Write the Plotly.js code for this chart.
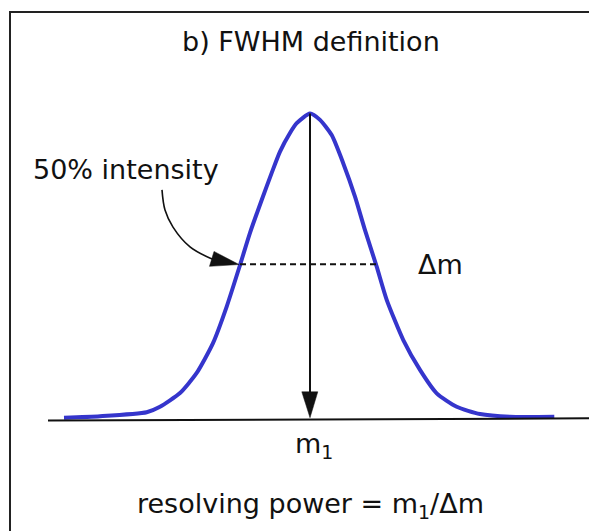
<!DOCTYPE html>
<html>
<head>
<meta charset="utf-8">
<script src="https://cdn.plot.ly/plotly-3.0.1.min.js"></script>
<style>html,body{margin:0;padding:0;background:#fff;}#chart{width:589px;height:531px;}</style>
</head>
<body>
<div id="chart"></div>
<script>
// Peak profile: mass offset from m1 (arbitrary units) and relative intensity
const massOffset = [-24.6, -21.0, -16.33, -15.0, -13.0, -11.33, -9.7, -8.33, -7.0, -6.0, -4.83, -3.83, -3.0, -2.0, -1.33, 0.0,
                    1.0, 2.17, 3.33, 4.5, 5.5, 6.67, 7.67, 9.33, 11.0, 12.67, 14.67, 17.0, 20.0, 24.43];
const intensity  = [0.001, 0.006, 0.019, 0.037, 0.082, 0.148, 0.246, 0.366, 0.502, 0.608, 0.716, 0.805, 0.875, 0.936, 0.968, 1.0,
                    0.979, 0.929, 0.836, 0.727, 0.617, 0.497, 0.388, 0.256, 0.158, 0.081, 0.037, 0.013, 0.004, 0.004];
// Half-maximum crossing points (FWHM)
const halfLevel = [0.505];
const halfLeft  = [-7.0];
const halfRight = [6.67];
// Curved pointer from the "50% intensity" label
const pointerX = [-14.8, -14.5, -13.7, -12.0, -9.8];
const pointerY = [0.749, 0.683, 0.627, 0.562, 0.522];
// Texts
const titleText = "b) FWHM definition";
const halfLabel = "50% intensity";
const deltaLabel = "Δm";
const peakLabel = "m<sub>1</sub>";
const formulaLabel = "resolving power = m<sub>1</sub>/Δm";

const FONT = "DejaVu Sans, Verdana, sans-serif";
const INK = "#111111";

const traces = [
  {x: massOffset, y: intensity, mode: "lines", type: "scatter",
   line: {color: "#3535cc", width: 4, shape: "spline", smoothing: 0.6}, hoverinfo: "skip"},
  {x: pointerX, y: pointerY, mode: "lines", type: "scatter",
   line: {color: INK, width: 1.6, shape: "spline", smoothing: 1}, hoverinfo: "skip"}
];

const shapes = [
  // frame
  {type: "rect", xref: "paper", yref: "paper", x0: 10/589, x1: 1.2, y0: -0.2, y1: 1 - 12/531,
   line: {color: "#222", width: 2}},
  // baseline
  {type: "line", xref: "x", yref: "y", x0: -26.2, y0: -0.0085, x1: 28.5, y1: -0.001,
   line: {color: INK, width: 2}},
  // FWHM dashed line
  {type: "line", xref: "x", yref: "y", x0: halfLeft[0], y0: halfLevel[0], x1: halfRight[0], y1: halfLevel[0],
   line: {color: INK, width: 2, dash: "6px,4px"}},
  // vertical arrow shaft
  {type: "line", xref: "x", yref: "y", x0: 0, y0: 1.0, x1: 0, y1: 0.08,
   line: {color: INK, width: 2}},
  // vertical arrowhead
  {type: "path", xref: "x", yref: "y", path: "M -0.82 0.086 L 0.78 0.086 L 0 0.001 Z",
   fillcolor: INK, line: {color: INK, width: 0.5}},
  // pointer arrowhead
  {type: "path", xref: "x", yref: "y", path: "M -9.6 0.547 L -10.05 0.498 L -7.1 0.504 Z",
   fillcolor: INK, line: {color: INK, width: 0.5}}
];

function txt(text, px, py, xanchor) {
  return {text: text, xref: "paper", yref: "paper", x: px/589, y: 1 - py/531,
          xanchor: xanchor || "center", yanchor: "middle", showarrow: false,
          font: {family: FONT, size: 27, color: INK}};
}

const annotations = [
  txt(titleText, 311, 41),
  txt(halfLabel, 31, 169, "left"),
  txt(deltaLabel, 416, 264, "left"),
  txt(peakLabel, 314, 445),
  txt(formulaLabel, 310, 505)
];

const layout = {
  width: 589, height: 531,
  margin: {l: 0, r: 0, t: 0, b: 0, pad: 0},
  paper_bgcolor: "#ffffff", plot_bgcolor: "#ffffff",
  showlegend: false,
  xaxis: {range: [-31.0, 27.9], visible: false, fixedrange: true},
  yaxis: {range: [-0.3711, 1.3727], visible: false, fixedrange: true},
  shapes: shapes,
  annotations: annotations
};

Plotly.newPlot("chart", traces, layout, {staticPlot: true, displayModeBar: false});
</script>
</body>
</html>
